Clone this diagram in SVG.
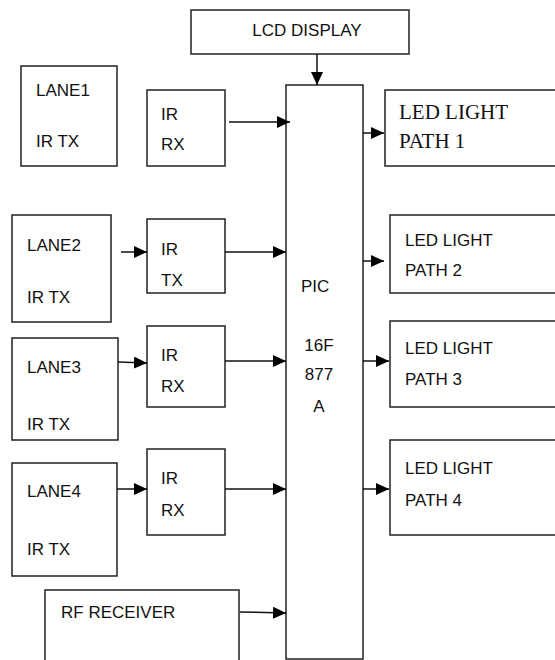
<svg xmlns="http://www.w3.org/2000/svg" width="555" height="660" viewBox="0 0 555 660">
<style>
.box{fill:#fff;stroke:#222;stroke-width:1.5}
.t{font-family:"Liberation Sans",Arial,sans-serif;font-size:17px;fill:#111}
.s{font-family:"Liberation Serif","Times New Roman",serif;font-size:21px;fill:#111}
.c{stroke:#111;stroke-width:1.5;fill:none;marker-end:url(#ah)}
</style>
<defs>
<marker id="ah" markerUnits="userSpaceOnUse" markerWidth="13" markerHeight="12" refX="13" refY="6" orient="auto">
<path d="M0,0 L13,6 L0,12 z" fill="#000"/>
</marker>
</defs>
<rect width="555" height="660" fill="#fff"/>
<g id="lcd"><rect class="box" x="191" y="10" width="218" height="44"/><text class="t" x="307" y="36" text-anchor="middle">LCD DISPLAY</text></g>
<g id="pic"><rect class="box" x="286" y="85" width="77" height="574"/>
<text class="t" x="301" y="292">PIC</text>
<text class="t" x="319" y="351" text-anchor="middle">16F</text>
<text class="t" x="319" y="380" text-anchor="middle">877</text>
<text class="t" x="319" y="412" text-anchor="middle">A</text></g>
<g id="lane1"><rect class="box" x="21" y="66" width="96" height="100"/><text class="t" x="36" y="96">LANE1</text><text class="t" x="36" y="147">IR TX</text></g>
<g id="irrx1"><rect class="box" x="147" y="90" width="78" height="76"/><text class="t" x="161" y="120">IR</text><text class="t" x="161" y="150">RX</text></g>
<g id="led1"><rect class="box" x="385" y="90" width="175" height="76"/><text class="s" x="399" y="119">LED LIGHT</text><text class="s" x="399" y="148">PATH 1</text></g>
<g id="lane2"><rect class="box" x="12" y="215" width="99" height="107"/><text class="t" x="27" y="251">LANE2</text><text class="t" x="27" y="303">IR TX</text></g>
<g id="irtx2"><rect class="box" x="147" y="219" width="78" height="74"/><text class="t" x="161" y="255">IR</text><text class="t" x="161" y="286">TX</text></g>
<g id="led2"><rect class="box" x="390" y="215" width="170" height="78"/><text class="t" x="405" y="246">LED LIGHT</text><text class="t" x="405" y="276">PATH 2</text></g>
<g id="lane3"><rect class="box" x="12" y="338" width="106" height="102"/><text class="t" x="27" y="373">LANE3</text><text class="t" x="27" y="430">IR TX</text></g>
<g id="irrx3"><rect class="box" x="147" y="326" width="78" height="81"/><text class="t" x="161" y="361">IR</text><text class="t" x="161" y="392">RX</text></g>
<g id="led3"><rect class="box" x="390" y="321" width="170" height="86"/><text class="t" x="405" y="354">LED LIGHT</text><text class="t" x="405" y="385">PATH 3</text></g>
<g id="lane4"><rect class="box" x="12" y="463" width="105" height="113"/><text class="t" x="27" y="497">LANE4</text><text class="t" x="27" y="555">IR TX</text></g>
<g id="irrx4"><rect class="box" x="147" y="449" width="78" height="86"/><text class="t" x="161" y="484">IR</text><text class="t" x="161" y="516">RX</text></g>
<g id="led4"><rect class="box" x="390" y="440" width="170" height="95"/><text class="t" x="405" y="474">LED LIGHT</text><text class="t" x="405" y="506">PATH 4</text></g>
<g id="rf"><rect class="box" x="45" y="590" width="194" height="80"/><text class="t" x="61" y="618">RF RECEIVER</text></g>
<g id="connectors">
<line class="c" x1="317" y1="54" x2="317" y2="85"/>
<line class="c" x1="229" y1="122" x2="290" y2="122"/>
<line class="c" x1="363" y1="133" x2="384" y2="133"/>
<line class="c" x1="121" y1="252" x2="147" y2="252"/>
<line class="c" x1="225" y1="252" x2="286" y2="252"/>
<line class="c" x1="363" y1="261" x2="384" y2="261"/>
<line class="c" x1="118" y1="362" x2="147" y2="363"/>
<line class="c" x1="225" y1="361" x2="286" y2="361"/>
<line class="c" x1="363" y1="361" x2="389" y2="361"/>
<line class="c" x1="117" y1="489" x2="147" y2="489"/>
<line class="c" x1="225" y1="489" x2="286" y2="489"/>
<line class="c" x1="363" y1="489" x2="389" y2="489"/>
<line class="c" x1="240" y1="612" x2="286" y2="613"/>
</g>
</svg>
